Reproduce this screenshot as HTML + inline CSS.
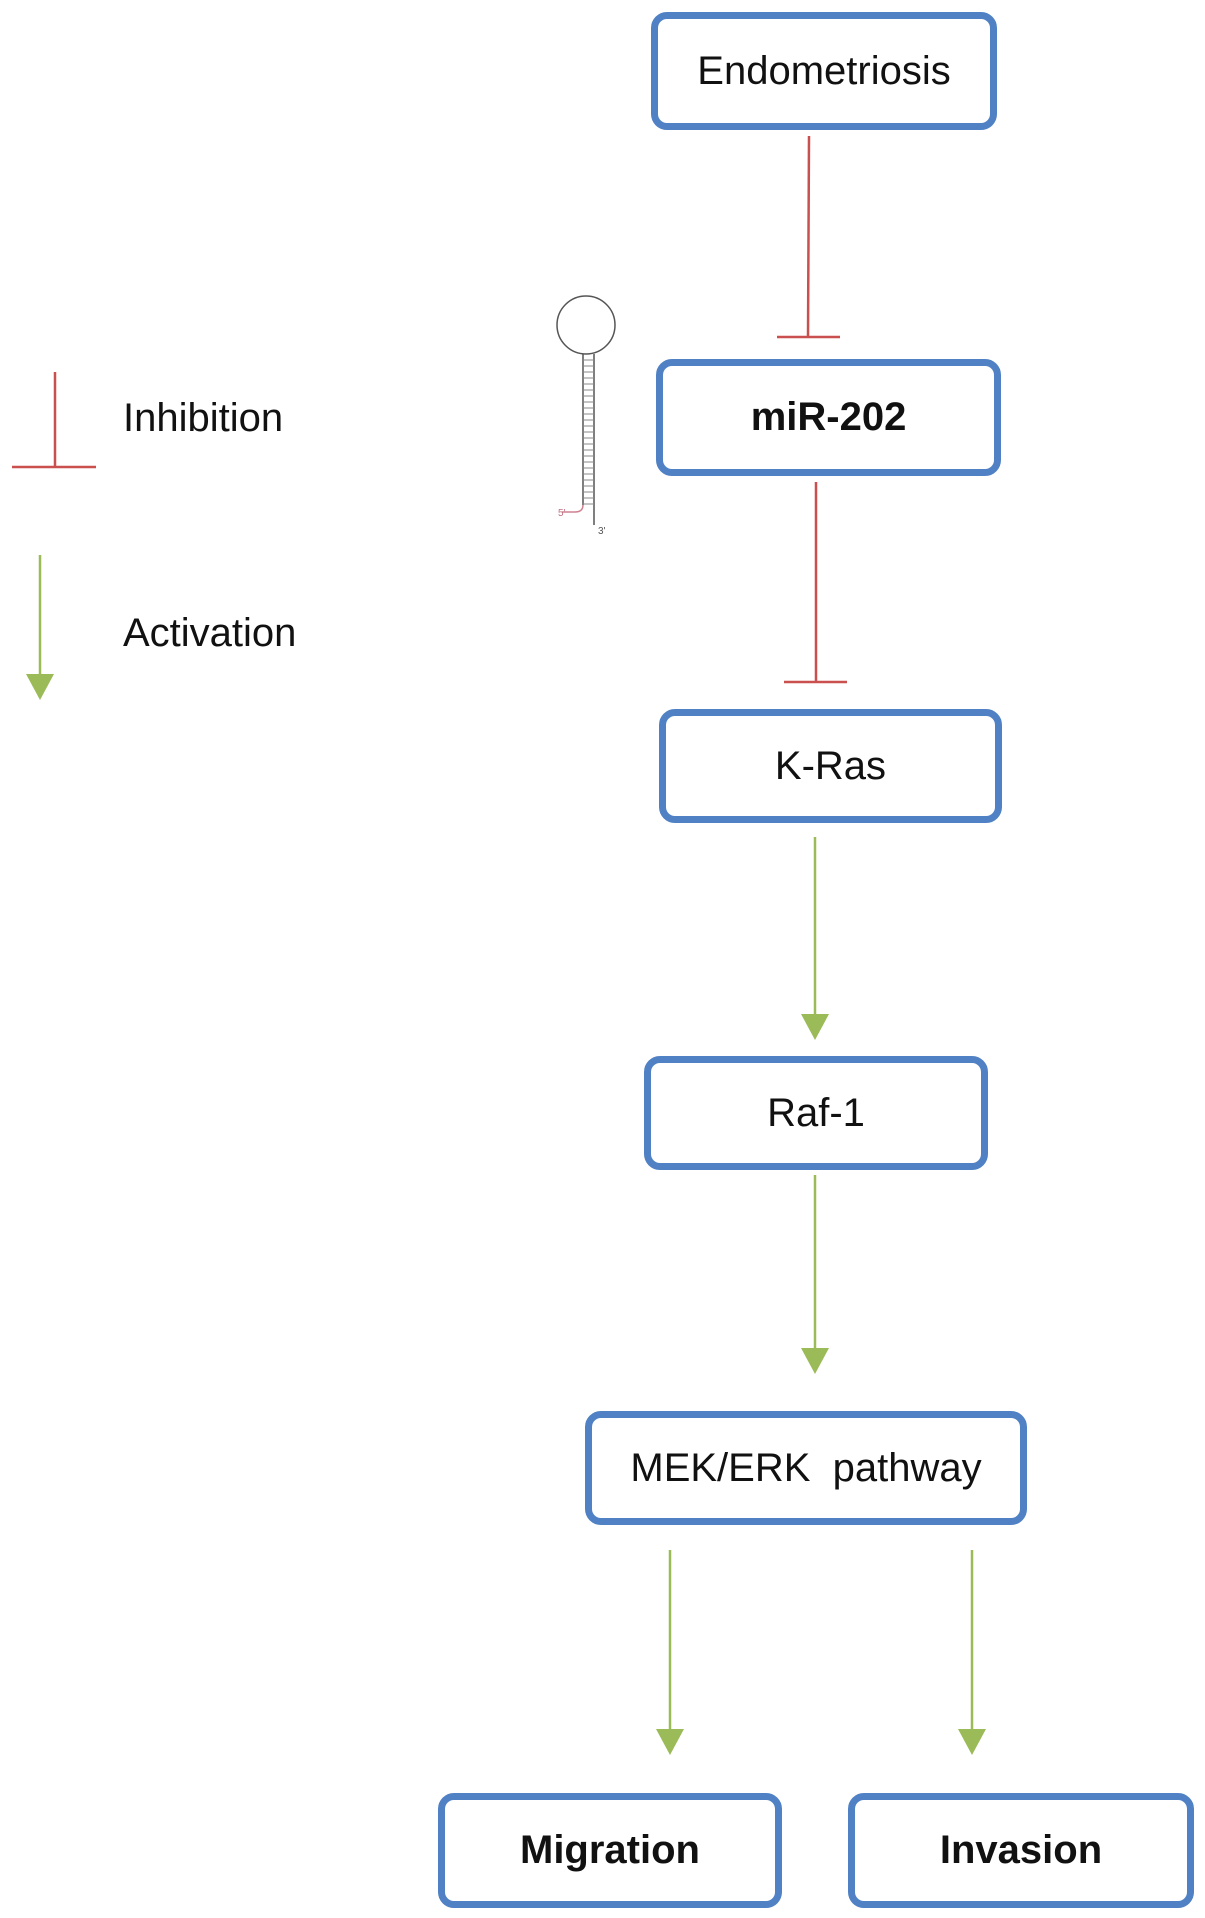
<!DOCTYPE html>
<html><head><meta charset="utf-8"><style>
html,body{margin:0;padding:0;background:#fff;}
body{width:1205px;height:1918px;position:relative;overflow:hidden;font-family:"Liberation Sans",sans-serif;}
.b{position:absolute;box-sizing:border-box;border:7px solid #4f81c4;border-radius:16px;background:#fff;display:flex;align-items:center;justify-content:center;font-size:40px;color:#111;}
.bold{font-weight:bold;}
.t{position:absolute;font-size:40px;color:#111;}
</style></head><body>
<svg width="1205" height="1918" style="position:absolute;left:0;top:0">
<g stroke="#c9504f" stroke-width="2.5" fill="none">
<line x1="809" y1="136" x2="808" y2="337"/><line x1="777" y1="337" x2="840" y2="337"/>
<line x1="816" y1="482" x2="816" y2="682"/><line x1="784" y1="682" x2="847" y2="682"/>
<line x1="55" y1="372" x2="55" y2="467"/><line x1="12" y1="467" x2="96" y2="467"/>
</g>
<g stroke="#9bbb59" stroke-width="2.5">
<line x1="815" y1="837" x2="815" y2="1020"/>
<line x1="815" y1="1175" x2="815" y2="1354"/>
<line x1="670" y1="1550" x2="670" y2="1735"/>
<line x1="972" y1="1550" x2="972" y2="1735"/>
<line x1="40" y1="555" x2="40" y2="680"/>
</g>
<g fill="#9bbb59">
<polygon points="801,1014 829,1014 815,1040"/>
<polygon points="801,1348 829,1348 815,1374"/>
<polygon points="656,1729 684,1729 670,1755"/>
<polygon points="958,1729 986,1729 972,1755"/>
<polygon points="26,674 54,674 40,700"/>
</g>
<g stroke="#555" stroke-width="1.5" fill="none">
<circle cx="586" cy="325" r="29"/>
<line x1="583" y1="354" x2="583" y2="505"/>
<line x1="594" y1="354" x2="594" y2="525"/>
</g>
<g stroke="#888" stroke-width="1">
<path d="M583 360 H594 M583 366 H594 M583 372 H594 M583 378 H594 M583 384 H594 M583 390 H594 M583 396 H594 M583 402 H594 M583 408 H594 M583 414 H594 M583 420 H594 M583 426 H594 M583 432 H594 M583 438 H594 M583 444 H594 M583 450 H594 M583 456 H594 M583 462 H594 M583 468 H594 M583 474 H594 M583 480 H594 M583 486 H594 M583 492 H594 M583 498 H594 M583 504 H594"/>
</g>
<path d="M583 505 Q583 512 575 512 L562 512" stroke="#d08090" stroke-width="1.5" fill="none"/>
<text x="558" y="516" font-size="10" fill="#c07080" font-family="Liberation Sans">5'</text>
<text x="598" y="534" font-size="10" fill="#555" font-family="Liberation Sans">3'</text>
</svg>
<div class="b" style="left:651px;top:12px;width:346px;height:118px;">Endometriosis</div>
<div class="b bold" style="left:656px;top:359px;width:345px;height:117px;">miR-202</div>
<div class="b" style="left:659px;top:709px;width:343px;height:114px;">K-Ras</div>
<div class="b" style="left:644px;top:1056px;width:344px;height:114px;">Raf-1</div>
<div class="b" style="left:585px;top:1411px;width:442px;height:114px;">MEK/ERK&nbsp; pathway</div>
<div class="b bold" style="left:438px;top:1793px;width:344px;height:115px;">Migration</div>
<div class="b bold" style="left:848px;top:1793px;width:346px;height:115px;">Invasion</div>
<div class="t" style="left:123px;top:396px;">Inhibition</div>
<div class="t" style="left:123px;top:611px;">Activation</div>
</body></html>
